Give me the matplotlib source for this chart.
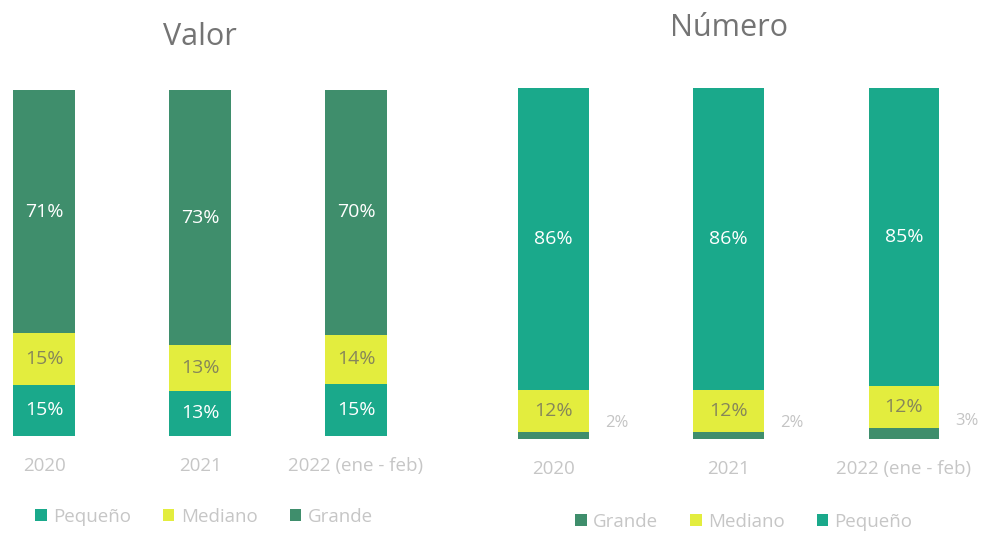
import matplotlib
matplotlib.use("Agg")
import matplotlib.pyplot as plt
from matplotlib.patches import Patch
import numpy as np

plt.rcParams['font.family'] = ['Open Sans', 'DejaVu Sans']

categories = ["2020", "2021", "2022 (ene - feb)"]
series_order_valor = ["Pequeño", "Mediano", "Grande"]
valor_pequeno = [15, 13, 15]
valor_mediano = [15, 13, 14]
valor_grande = [71, 73, 70]

series_order_numero = ["Grande", "Mediano", "Pequeño"]
numero_grande = [2, 2, 3]
numero_mediano = [12, 12, 12]
numero_pequeno = [86, 86, 85]

colors = {"Pequeño": "#1aa98b", "Mediano": "#e3ed3e", "Grande": "#3f8e6c"}
label_colors = {"Pequeño": "white", "Mediano": "#86865a", "Grande": "white"}

W, H = 981, 533
fig = plt.figure(figsize=(W / 100, H / 100), dpi=100)

def px_axes(x0, x1, ytop, ybot):
    return fig.add_axes([x0 / W, 1 - ybot / H, (x1 - x0) / W, (ybot - ytop) / H])

def draw(ax, order, data, width, outside=None):
    x = np.arange(len(categories))
    totals = np.sum([data[k] for k in order], axis=0).astype(float)
    bottom = np.zeros(len(categories))
    for k in order:
        vals = np.array(data[k], dtype=float)
        share = vals / totals * 100
        ax.bar(x, share, width, bottom=bottom, color=colors[k], label=k)
        for i, v in enumerate(vals):
            if outside == k:
                ax.text(x[i] + width / 2 + 0.09, bottom[i] + share[i] / 2 + 3.5,
                        f"{int(v)}%", ha="left", va="center", fontsize=12,
                        color="#c4c4c4")
            else:
                ax.text(x[i], bottom[i] + share[i] / 2, f"{int(v)}%",
                        ha="center", va="center", fontsize=14,
                        color=label_colors[k])
        bottom += share
    ax.set_ylim(0, 100)
    ax.set_xticks(x)
    ax.set_xticklabels(categories, fontsize=13.5, color="#c6c6c6")
    ax.tick_params(axis="x", length=0, pad=15)
    ax.set_yticks([])
    for s in ax.spines.values():
        s.set_visible(False)
    ax.patch.set_alpha(0)

# Left panel: Valor
axL = px_axes(0, 470, 90, 436)
draw(axL, series_order_valor,
     {"Pequeño": valor_pequeno, "Mediano": valor_mediano, "Grande": valor_grande},
     0.40)
axL.set_xlim(-44 / 156, (470 - 44) / 156)

# Right panel: Número
axR = px_axes(490, 981, 88, 439)
draw(axR, series_order_numero,
     {"Grande": numero_grande, "Mediano": numero_mediano, "Pequeño": numero_pequeno},
     0.405, outside="Grande")
axR.set_xlim(-(553.5 - 490) / 175.25, (981 - 553.5) / 175.25)

fig.text(200 / W, 1 - 37 / H, "Valor", ha="center", va="center",
         fontsize=22, color="#747474")
fig.text(729 / W, 1 - 28 / H, "Número", ha="center", va="center",
         fontsize=22, color="#747474")

def legend(order, cx, cy):
    handles = [Patch(facecolor=colors[k], label=k) for k in order]
    leg = fig.legend(handles=handles, loc="center", ncol=3,
                     bbox_to_anchor=(cx / W, 1 - cy / H), frameon=False,
                     fontsize=13.5, handlelength=0.6, handleheight=0.6,
                     handletextpad=0.35, columnspacing=1.7,
                     borderaxespad=0, borderpad=0.1)
    for t in leg.get_texts():
        t.set_color("#c6c6c6")

legend(series_order_valor, 204, 517)
legend(series_order_numero, 744, 522)

fig.savefig("out.png", dpi=100, facecolor="white")
